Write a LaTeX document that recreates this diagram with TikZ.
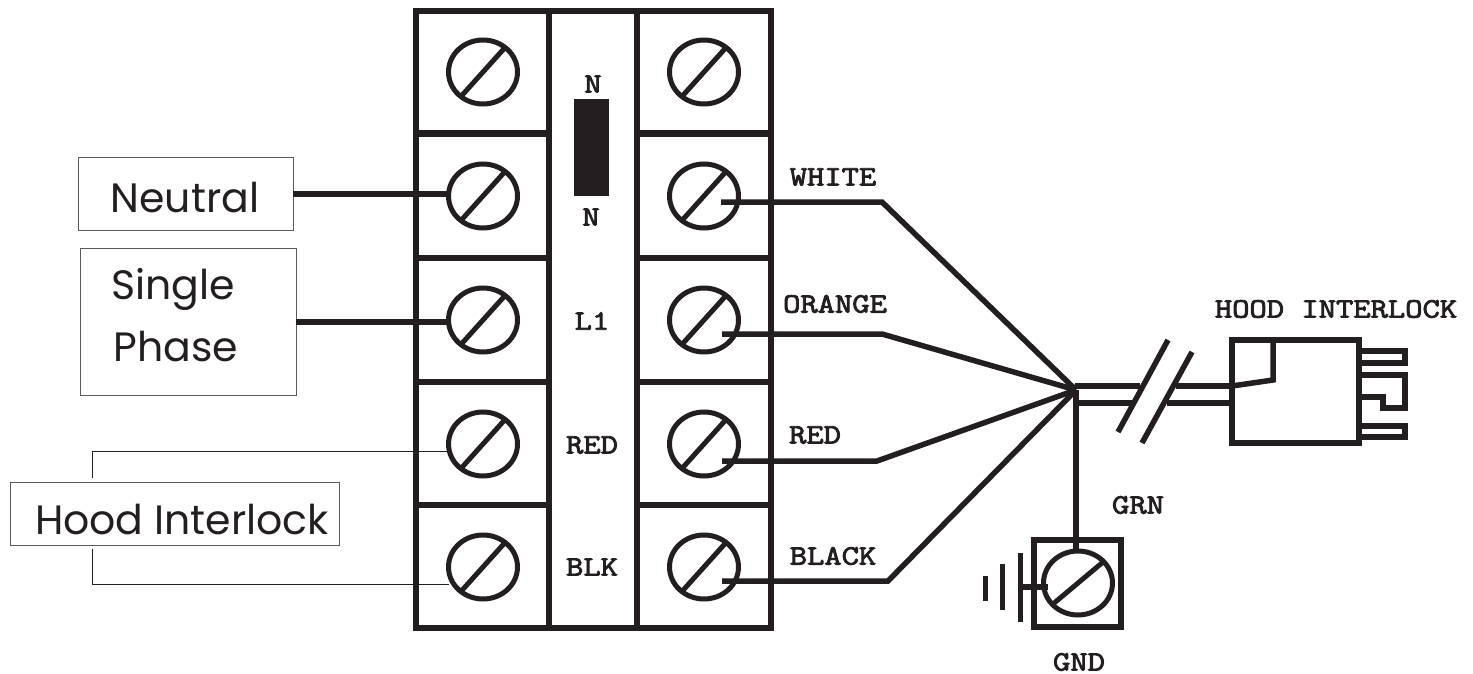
\documentclass[tikz,border=0pt]{standalone}
\usepackage{fontspec}
\setmainfont{Poppins}
\newfontfamily\tagfont[FakeBold=3,FakeStretch=1.2]{Latin Modern Mono}
\usetikzlibrary{shapes.geometric}
\tikzset{
  wire/.style={line width=5.5pt,line join=miter,draw=inkColor},
  thinwire/.style={line width=1pt,draw=inkColor},
  screwhead/.style={ellipse,draw=inkColor,line width=5pt,minimum width=69pt,minimum height=64pt,inner sep=0pt,outer sep=0pt},
  framebox/.style={draw=boxColor,line width=1pt,inner sep=0pt,outer sep=0pt},
  boxtext/.style={text=inkColor,inner sep=0pt,outer sep=0pt,font=\fontsize{41}{58}\selectfont,align=left},
  tag/.style={text=inkColor,inner sep=0pt,outer sep=0pt,font=\fontsize{28}{28}\tagfont\selectfont}
}
\begin{document}
\begin{tikzpicture}[x=1pt,y=-1pt]
\definecolor{inkColor}{RGB}{35,31,32}
\definecolor{boxColor}{RGB}{90,90,90}
\useasboundingbox (0,0) rectangle (1473,674);

% terminal block
\path[draw=inkColor,line width=6pt] (416,11) rectangle (771,628);
\path[draw=inkColor,line width=6pt] (549,11) -- (549,628);
\path[draw=inkColor,line width=6pt] (637,11) -- (637,628);

\path[draw=inkColor,line width=6.5pt] (416,133.5) -- (549,133.5);
\path[draw=inkColor,line width=6.5pt] (416,258) -- (549,258);
\path[draw=inkColor,line width=6.5pt] (416,382) -- (549,382);
\path[draw=inkColor,line width=6.5pt] (416,505) -- (549,505);
\path[draw=inkColor,line width=6.5pt] (637,133.5) -- (771,133.5);
\path[draw=inkColor,line width=6.5pt] (637,258) -- (771,258);
\path[draw=inkColor,line width=6.5pt] (637,382) -- (771,382);
\path[draw=inkColor,line width=6.5pt] (637,505) -- (771,505);

\path[fill=inkColor] (574,99) rectangle (609,196);

% screws
\node[screwhead] (leftA) at (483,72) {};
\node[screwhead] (leftB) at (483,196) {};
\node[screwhead] (leftC) at (483,320) {};
\node[screwhead] (leftD) at (483,444) {};
\node[screwhead] (leftE) at (483,567) {};
\node[screwhead] (rightA) at (704,72) {};
\node[screwhead] (rightB) at (704,196) {};
\node[screwhead] (rightC) at (704,320) {};
\node[screwhead] (rightD) at (704,444) {};
\node[screwhead] (rightE) at (704,567) {};
\node[screwhead] (gndScrew) at (1078,583) {};

\path[draw=inkColor,line width=5pt] (leftA.228) -- (leftA.48);
\path[draw=inkColor,line width=5pt] (leftB.228) -- (leftB.48);
\path[draw=inkColor,line width=5pt] (leftC.228) -- (leftC.48);
\path[draw=inkColor,line width=5pt] (leftD.228) -- (leftD.48);
\path[draw=inkColor,line width=5pt] (leftE.228) -- (leftE.48);
\path[draw=inkColor,line width=5pt] (rightA.228) -- (rightA.48);
\path[draw=inkColor,line width=5pt] (rightB.228) -- (rightB.48);
\path[draw=inkColor,line width=5pt] (rightC.228) -- (rightC.48);
\path[draw=inkColor,line width=5pt] (rightD.228) -- (rightD.48);
\path[draw=inkColor,line width=5pt] (rightE.228) -- (rightE.48);
\path[draw=inkColor,line width=5pt] (gndScrew.220) -- (gndScrew.40);

% left boxes
\node[framebox,minimum width=215pt,minimum height=72pt] (neutralBox) at (185.5,194) {};
\node[framebox,minimum width=216pt,minimum height=147pt] (phaseBox) at (188,322) {};
\node[framebox,minimum width=329pt,minimum height=63pt] (hoodBox) at (174.5,513.5) {};

\node[boxtext] (neutralText) at (185,198) {Neutral};
\node[boxtext] (singleText) at (173,289) {Single};
\node[boxtext] (phaseText) at (176,347) {Phase};
\node[boxtext] (hoodText) at (182,520) {Hood Interlock};

\draw[wire] (neutralBox.east) -- (neutralBox.east -| leftB.west);
\draw[wire] (phaseBox.east) -- (phaseBox.east -| leftC.west);

\coordinate (hoodTop) at (92,478);
\coordinate (hoodBottom) at (92,549);
\coordinate (redEnd) at (449,451.5);
\coordinate (blkEnd) at (449,584.5);
\draw[thinwire] (hoodTop) |- (redEnd);
\draw[thinwire] (hoodBottom) |- (blkEnd);

% block labels
\node[tag] (nTop) at (593,84) {N};
\node[tag] (nBottom) at (591,217) {N};
\node[tag] (lOne) at (592,321) {L1};
\node[tag] (redMid) at (592,445) {RED};
\node[tag] (blkMid) at (592,567) {BLK};

% harness
\coordinate (hub) at (1076,390);
\coordinate (whiteEnd) at (721,202);
\coordinate (whiteBend) at (882,202);
\coordinate (orangeEnd) at (722,334);
\coordinate (orangeBend) at (882,334);
\coordinate (redStart) at (722,461);
\coordinate (redBend) at (877,461);
\coordinate (blackEnd) at (722,581);
\coordinate (blackBend) at (888,581);

\draw[wire] (whiteEnd) -- (whiteBend) -- (hub);
\draw[wire] (orangeEnd) -- (orangeBend) -- (hub);
\draw[wire] (redStart) -- (redBend) -- (hub);
\draw[wire] (blackEnd) -- (blackBend) -- (hub);

\node[tag] (whiteTag) at (833,177) {WHITE};
\node[tag] (orangeTag) at (835,304) {ORANGE};
\node[tag] (redTag) at (815,435) {RED};
\node[tag] (blackTag) at (833,556) {BLACK};

% cable to plug
\coordinate (plugTL) at (1232,340);
\coordinate (plugBR) at (1359,443);
\coordinate (topA) at (1075,386);
\coordinate (topB) at (1140,386);
\coordinate (topC) at (1176,386);
\coordinate (topD) at (1232,386);
\coordinate (lowA) at (1075,403);
\coordinate (lowB) at (1132,403);
\coordinate (lowC) at (1167,403);
\coordinate (lowD) at (1232,403);
\draw[wire] (topA) -- (topB);
\draw[wire] (topC) -- (topD);
\draw[wire] (lowA) -- (lowB);
\draw[wire] (lowC) -- (lowD);

\coordinate (breakAa) at (1168,340);
\coordinate (breakAb) at (1118,432);
\coordinate (breakBa) at (1192,352);
\coordinate (breakBb) at (1142,443);
\draw[wire] (breakAa) -- (breakAb);
\draw[wire] (breakBa) -- (breakBb);

\draw[wire] (plugTL) rectangle (plugBR);
\draw[wire] (1273,340) -- (1273,380) -- (topD);
\draw[wire] (1359,351) -- (1405,351) -- (1405,363) -- (1359,363);
\draw[wire] (1359,375) -- (1405,375) -- (1405,408) -- (1383,408) -- (1383,397) -- (1359,397);
\draw[wire] (1359,426) -- (1405,426) -- (1405,437) -- (1359,437);

\node[tag] (plugTag) at (1336,309) {HOOD INTERLOCK};

% ground
\draw[wire] (1034,540) rectangle (1121,627);
\draw[wire] (hub) -- (hub |- gndScrew.north);
\coordinate (stemEnd) at (1048,587);
\coordinate (stemStart) at (1020,587);
\draw[wire] (stemStart) -- (stemEnd);
\path[draw=inkColor,line width=5pt] (1020,553) -- (1020,622);
\path[draw=inkColor,line width=5pt] (1002,564) -- (1002,610);
\path[draw=inkColor,line width=5pt] (985,576) -- (985,601);

\node[tag] (grnTag) at (1138,505) {GRN};
\node[tag] (gndTag) at (1079,662) {GND};
\end{tikzpicture}
\end{document}
